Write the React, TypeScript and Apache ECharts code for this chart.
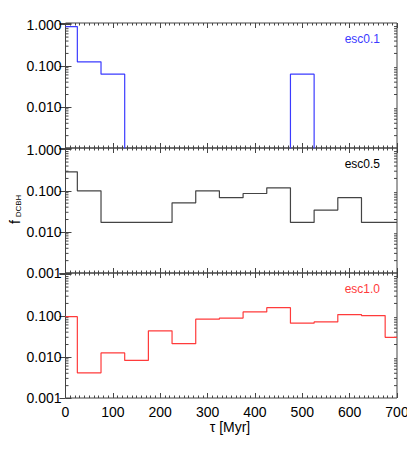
import React, { useEffect, useRef } from "react";
import * as echarts from "echarts";

const binCenters = [0, 50, 100, 150, 200, 250, 300, 350, 400, 450, 500, 550, 600, 650, 700];
const esc01 = [0.9, 0.125, 0.0625, 0, 0, 0, 0, 0, 0, 0, 0.0625, 0, 0, 0, 0];
const esc05 = [0.29, 0.1, 0.017, 0.017, 0.017, 0.051, 0.1, 0.068, 0.086, 0.118, 0.017, 0.034, 0.068, 0.017, 0.017];
const esc10 = [0.095, 0.0041, 0.0125, 0.0082, 0.043, 0.021, 0.083, 0.088, 0.124, 0.158, 0.066, 0.071, 0.107, 0.101, 0.03];
const panelNames = ["esc0.1", "esc0.5", "esc1.0"];
const panelColors = ["#3b3bff", "#444444", "#ff3b3b"];
const xTicks = [0, 100, 200, 300, 400, 500, 600, 700];
const yMajor = [0.001, 0.01, 0.1, 1];

export default function App() {
  const ref = useRef<HTMLDivElement>(null);
  useEffect(() => {
    const chart = echarts.init(ref.current!, null, { renderer: "svg" });
    const panels = [esc01, esc05, esc10];
    const left = 65.5;
    const width = 331.5;
    const tops = [23, 148, 273];
    const h = 125;
    const frame = "#444";
    const font = "Liberation Sans";
    const yMin = 0.001;
    const yMax = 1.1;

    const minorVals: number[] = [];
    for (let e = -3; e <= 0; e++) {
      for (let k = 2; k <= 9; k++) {
        const v = k * Math.pow(10, e);
        if (v < yMax) minorVals.push(v);
      }
    }

    const grids: any[] = [];
    const xAxes: any[] = [];
    const yAxes: any[] = [];
    const series: any[] = [];
    const graphics: any[] = [];

    panels.forEach((vals, i) => {
      grids.push({
        left,
        top: tops[i],
        width,
        height: h,
        show: true,
        borderColor: frame,
        borderWidth: 1,
        backgroundColor: "transparent",
      });
      const xBase = {
        type: "value",
        gridIndex: i,
        min: xTicks[0],
        max: xTicks[xTicks.length - 1],
        interval: 100,
        axisLine: { show: false },
        splitLine: { show: false },
        axisTick: { show: true, inside: true, length: 5, lineStyle: { color: frame, width: 1 } },
        minorTick: { show: true, splitNumber: 10, length: 2.5, lineStyle: { color: frame, width: 1 } },
      };
      xAxes.push({
        ...xBase,
        position: "bottom",
        axisLabel: {
          show: i === 2,
          color: "#000",
          fontFamily: font,
          fontSize: 14,
          margin: 7,
        },
      });
      xAxes.push({ ...xBase, position: "top", axisLabel: { show: false } });

      const hide = i === 0 ? [0.001] : i === 2 ? [1] : [];
      const yBase = {
        type: "log",
        logBase: 10,
        gridIndex: i,
        min: yMin,
        max: yMax,
        axisLine: { show: false },
        splitLine: { show: false },
        minorTick: { show: false },
        axisTick: { show: true, inside: true, length: 6, lineStyle: { color: frame, width: 1 } },
      };
      yAxes.push({
        ...yBase,
        position: "left",
        axisLabel: {
          show: true,
          color: "#000",
          fontFamily: font,
          fontSize: 14,
          margin: 4,
          showMaxLabel: true,
          showMinLabel: true,
          formatter: (v: number) => {
            const m = yMajor.find((t) => Math.abs(Math.log10(v) - Math.log10(t)) < 1e-6);
            if (m === undefined) return "";
            if (hide.some((t) => Math.abs(t - m) < 1e-9)) return "";
            return m.toFixed(3);
          },
        },
      });
      yAxes.push({ ...yBase, position: "right", axisLabel: { show: false } });

      series.push({
        type: "line",
        xAxisIndex: 2 * i,
        yAxisIndex: 2 * i,
        step: "middle",
        showSymbol: false,
        symbol: "none",
        clip: true,
        lineStyle: { color: panelColors[i], width: 1.2 },
        data: binCenters.map((c, k) => [c, vals[k] > 0 ? vals[k] : 1e-6]),
        z: 3,
      });
      series.push({
        type: "custom",
        xAxisIndex: 2 * i,
        yAxisIndex: 2 * i,
        silent: true,
        clip: false,
        data: minorVals.map((v) => [0, v]),
        encode: { x: 0, y: 1 },
        renderItem: (params: any, api: any) => {
          const v = api.value(1);
          const p = api.coord([xTicks[0], v]);
          const q = api.coord([xTicks[xTicks.length - 1], v]);
          const st = { stroke: frame, lineWidth: 1 };
          return {
            type: "group",
            children: [
              { type: "line", shape: { x1: p[0], y1: p[1], x2: p[0] + 3, y2: p[1] }, style: st },
              { type: "line", shape: { x1: q[0], y1: q[1], x2: q[0] - 3, y2: q[1] }, style: st },
            ],
          };
        },
        z: 2,
      });

      graphics.push({
        type: "text",
        right: 415 - 380,
        top: tops[i] + 10,
        style: {
          text: panelNames[i],
          fill: i === 1 ? "#000" : panelColors[i],
          font: `12px "${font}"`,
        },
      });
    });

    graphics.push({
      type: "text",
      x: 230,
      y: 427,
      style: {
        text: "τ [Myr]",
        fill: "#000",
        font: `14px "${font}"`,
        align: "center",
        verticalAlign: "middle",
      },
    });
    graphics.push({
      type: "text",
      x: 15,
      y: 222,
      rotation: Math.PI / 2,
      style: { text: "f", fill: "#000", font: `14px "${font}"`, align: "center", verticalAlign: "middle" },
    });
    graphics.push({
      type: "text",
      x: 18,
      y: 206,
      rotation: Math.PI / 2,
      style: { text: "DCBH", fill: "#000", font: `8px "${font}"`, align: "center", verticalAlign: "middle" },
    });

    chart.setOption({
      animation: false,
      backgroundColor: "#fff",
      grid: grids,
      xAxis: xAxes,
      yAxis: yAxes,
      series,
      graphic: graphics,
    });
    return () => chart.dispose();
  }, []);
  return <div ref={ref} style={{ width: 415, height: 457, margin: -8 }} />;
}
